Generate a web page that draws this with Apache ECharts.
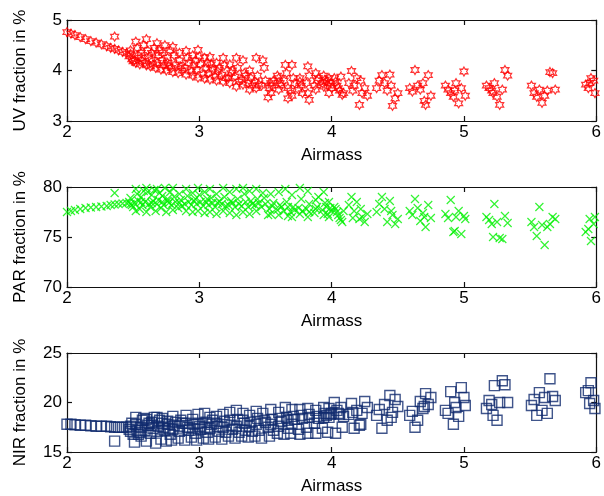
<!DOCTYPE html>
<html>
<head>
<meta charset="utf-8">
<script src="https://cdn.jsdelivr.net/npm/echarts@6/dist/echarts.min.js"></script>
<style>html,body{margin:0;padding:0;background:#fff}#c{width:604px;height:496px}</style>
</head>
<body>
<div id="c"></div>
<script>
// ---- data ----
const airmass = [
  2.00,2.03,2.06,2.10,2.14,2.18,2.22,2.26,2.30,2.33,2.36,2.36,2.39,2.42,2.45,
  2.48,2.47,2.49,2.48,2.50,
  2.52,2.53,2.51,2.52,2.54,
  2.56,2.57,2.55,2.56,2.58,
  2.60,2.61,2.59,2.60,2.62,
  2.64,2.65,2.63,2.64,2.66,
  2.68,2.69,2.67,2.68,2.70,
  2.72,2.73,2.71,2.72,2.74,
  2.76,2.77,2.75,2.76,2.78,
  2.80,2.81,2.79,2.80,2.82,
  2.85,2.86,2.84,2.85,2.87,
  2.90,2.91,2.89,2.90,2.92,
  2.95,2.96,2.94,2.95,2.97,
  2.99,3.00,2.98,2.99,3.01,
  3.04,3.05,3.03,3.04,3.06,
  3.08,3.09,3.07,3.08,3.10,
  3.13,3.14,3.12,3.13,3.15,
  3.18,3.19,3.17,3.18,3.20,
  3.23,3.24,3.22,3.23,3.25,
  3.28,3.29,3.27,3.28,3.30,
  3.33,3.34,3.32,3.33,3.35,
  3.38,3.39,3.37,3.38,3.40,
  3.43,3.44,3.42,3.43,3.45,
  3.48,3.49,3.47,3.52,3.50,
  3.54,3.55,3.53,3.54,3.56,
  3.60,3.61,3.59,3.60,3.62,
  3.65,3.66,3.64,3.67,3.67,
  3.70,3.71,3.69,3.70,3.72,
  3.76,3.77,3.75,3.76,3.78,
  3.82,3.83,3.81,3.82,3.83,
  3.88,3.89,3.87,3.88,3.90,
  3.94,3.95,3.93,3.94,3.96,
  3.98,3.99,3.97,3.98,4.00,
  4.02,4.04,4.06,4.08,4.03,4.05,4.07,4.09,
  4.13,4.15,4.17,4.19,4.21,4.23,4.25,4.27,4.16,4.22,
  4.34,4.36,4.38,4.40,4.42,4.44,4.46,4.48,4.50,4.45,
  4.59,4.61,4.63,4.65,4.67,4.69,4.71,4.73,4.75,4.70,
  4.86,4.88,4.90,4.92,4.94,4.96,4.98,5.00,5.01,4.93,
  5.17,5.19,5.21,5.23,5.25,5.27,5.29,5.31,5.33,5.22,
  5.51,5.53,5.55,5.57,5.59,5.61,5.63,5.65,5.67,5.69,
  5.92,5.94,5.96,5.98,5.99,5.95
];
const uvFraction = [
  4.76,4.73,4.70,4.66,4.62,4.58,4.55,4.52,4.48,4.45,4.43,4.67,4.40,4.37,4.34,
  4.33,4.28,4.22,4.40,4.18,
  4.57,4.45,4.20,4.15,4.30,
  4.25,4.18,4.12,4.35,4.50,
  4.62,4.40,4.15,4.10,4.28,
  4.22,4.12,4.08,4.35,4.45,
  4.54,4.30,4.05,4.15,4.40,
  4.20,4.10,4.02,4.35,4.50,
  4.25,4.08,4.00,4.15,4.40,
  4.47,4.30,4.05,3.97,4.12,
  4.20,4.08,3.95,4.35,4.00,
  4.39,4.25,4.05,3.92,4.15,
  4.30,4.10,3.98,3.90,4.20,
  4.41,4.28,4.02,3.86,4.12,
  4.25,4.05,3.92,3.84,4.15,
  4.27,4.12,3.95,3.82,4.02,
  4.15,3.98,3.88,3.80,4.05,
  4.25,4.10,3.92,3.78,3.85,
  4.12,3.95,3.85,3.75,4.00,
  4.25,4.05,3.88,3.68,3.78,
  4.20,3.95,3.82,3.72,3.90,
  4.00,3.85,3.75,3.62,3.70,
  4.25,3.90,3.78,3.65,3.72,
  4.20,4.05,3.70,3.47,3.80,
  3.75,3.70,3.65,3.55,3.80,
  3.85,3.75,3.90,3.62,3.70,
  4.11,3.95,3.80,3.45,3.65,
  4.11,3.85,3.60,3.50,3.75,
  3.78,3.70,3.62,3.85,3.55,
  4.08,3.90,3.75,3.55,3.42,
  3.95,3.80,3.70,3.62,3.85,
  3.90,3.82,3.75,3.68,3.78,
  3.85,3.75,3.70,3.55,3.65,
  3.85,3.70,3.60,3.52,3.78,3.65,3.88,3.55,
  3.75,3.99,3.70,3.85,3.32,3.55,3.65,3.50,3.60,3.80,
  3.65,3.80,3.91,3.75,3.60,3.92,3.30,3.45,3.55,3.70,
  3.65,3.58,4.01,3.70,3.62,3.75,3.32,3.91,3.50,3.40,
  3.70,3.62,3.55,3.48,3.75,3.35,3.65,3.98,3.50,3.60,
  3.70,3.65,3.60,3.75,3.48,3.32,3.62,4.01,3.90,3.55,
  3.70,3.55,3.48,3.62,3.36,3.50,3.60,3.97,3.95,3.62,
  3.72,3.65,3.85,3.80,3.55,3.75
];
const parFraction = [
  77.5,77.6,77.7,77.8,77.9,77.95,78.0,78.05,78.1,78.2,78.25,79.4,78.3,78.35,78.4,
  78.3,78.5,78.2,78.9,78.0,
  79.8,79.3,78.4,77.6,78.6,
  78.5,78.2,77.8,79.0,79.6,
  79.9,79.5,78.5,77.5,78.3,
  78.4,78.6,78.0,79.2,79.7,
  79.8,78.7,77.6,78.3,79.4,
  78.5,78.2,77.9,79.1,79.9,
  78.6,78.4,77.5,78.8,79.5,
  79.9,79.0,78.2,77.7,78.5,
  78.4,78.7,77.9,79.3,78.1,
  79.8,79.1,78.3,77.6,78.5,
  79.4,78.6,78.2,77.5,78.8,
  79.9,79.2,78.3,77.6,78.5,
  79.5,78.5,78.1,77.4,78.8,
  79.8,78.9,78.2,77.5,78.4,
  79.3,78.4,78.0,77.3,78.6,
  79.9,79.0,78.3,77.6,78.1,
  79.5,78.6,78.2,77.4,78.4,
  79.8,78.8,78.0,77.2,78.3,
  79.9,79.3,78.1,77.5,78.5,
  79.6,78.6,78.0,77.3,78.3,
  79.8,78.8,78.2,77.6,78.4,
  79.4,78.9,78.0,77.2,78.3,
  79.3,78.1,77.8,77.3,78.4,
  79.5,78.2,77.7,77.2,78.0,
  79.8,78.5,77.6,77.1,78.0,
  79.2,78.0,77.5,77.0,77.7,
  79.9,78.8,77.9,77.3,77.6,
  79.6,78.3,77.8,77.0,77.5,
  78.7,78.0,77.4,77.8,79.0,
  79.5,78.4,77.7,77.2,78.0,
  78.5,77.9,77.3,77.0,77.6,
  78.0,77.5,76.9,76.5,77.8,77.2,76.7,77.6,
  78.2,79.0,77.6,78.5,76.8,77.0,76.5,77.3,76.9,77.8,
  77.5,78.3,79.0,77.8,76.5,78.6,77.2,76.3,76.8,77.6,
  77.6,77.2,78.8,77.9,76.6,77.4,76.0,78.2,76.9,77.0,
  77.3,76.9,78.7,75.5,77.0,77.6,75.3,77.1,76.8,75.6,
  77.0,76.7,76.3,78.3,76.5,74.9,74.8,77.1,76.4,75.0,
  76.5,76.0,75.1,78.0,76.2,74.2,76.0,76.3,77.0,76.8,
  75.5,75.8,74.6,76.3,77.0,76.8
];
const nirFraction = [
  17.8,17.8,17.75,17.7,17.7,17.65,17.6,17.6,17.6,17.55,17.5,16.1,17.5,17.5,17.5,
  17.6,17.3,17.9,17.1,16.8,
  18.5,17.2,16.0,17.8,16.8,
  17.5,18.2,17.0,16.6,18.4,
  18.3,17.7,17.2,16.1,17.9,
  18.0,17.4,16.9,17.7,18.5,
  18.5,17.6,15.9,17.1,18.2,
  17.9,17.5,16.3,18.4,17.2,
  18.1,17.4,16.1,17.8,16.8,
  18.6,17.7,16.2,17.3,18.0,
  17.6,18.2,16.4,17.1,17.9,
  18.7,17.5,16.2,17.9,17.2,
  18.3,17.8,16.5,17.4,16.9,
  18.8,17.6,16.2,17.9,17.3,
  18.9,18.0,16.4,17.5,17.0,
  18.5,17.8,16.3,17.4,18.2,
  18.6,17.6,16.5,17.9,17.1,
  18.8,18.1,16.3,17.5,17.0,
  19.0,17.7,16.6,18.2,17.3,
  19.2,18.3,16.4,17.6,17.0,
  18.9,17.9,16.6,18.2,17.2,
  18.7,18.0,16.5,17.6,17.1,
  19.1,18.4,16.6,17.8,17.2,
  18.9,18.2,16.4,17.5,18.0,
  19.3,18.3,16.6,17.8,17.2,
  19.0,18.4,16.9,17.6,18.1,
  19.5,18.5,16.8,17.4,18.2,
  19.3,18.6,16.9,17.8,18.3,
  19.3,18.7,17.3,16.8,18.4,
  19.4,18.8,17.5,16.9,18.5,
  19.2,18.6,17.9,16.9,18.4,
  19.5,18.9,17.4,18.5,18.7,
  19.4,18.8,17.0,18.5,18.9,
  20.0,19.2,18.8,17.5,16.9,18.9,19.5,18.6,
  18.8,19.9,17.4,19.2,17.7,18.9,20.1,19.5,19.0,17.8,
  18.7,19.3,17.4,19.8,18.2,20.7,19.0,20.3,19.6,18.5,
  18.7,19.1,17.5,18.2,20.1,19.4,20.9,19.8,20.5,19.6,
  19.2,18.9,21.1,17.8,19.5,18.6,21.5,20.5,19.7,20.0,
  19.4,20.2,19.8,21.7,18.2,20.0,22.2,21.8,20.0,18.7,
  19.7,20.3,18.7,21.0,19.2,20.5,18.9,22.4,20.6,20.2,
  21.0,21.2,22.0,20.2,19.4,19.9
];
const yTitles = ['UV fraction in %', 'PAR fraction in %', 'NIR fraction in %'];
const yRanges = [[3, 5, 1], [70, 80, 5], [15, 25, 5]];
const xTitle = 'Airmass';

// ---- chart ----
const FONT = 'Liberation Sans';
const FS = 17;
const hexagram = 'path://M10,0L12.89,5L18.66,5L15.77,10L18.66,15L12.89,15L10,20L7.11,15L1.34,15L4.23,10L1.34,5L7.11,5Z';
const cross = 'path://M0,0L10,10M10,0L0,10';
const tops = [20, 187, 353];
const heights = [101, 100, 100];

const grids = tops.map((t, i) => ({ left: 67, right: 6, top: t, height: heights[i] }));
const lineStyle = { color: '#111', width: 1.2 };
const xAxes = [], yAxes = [];
for (let i = 0; i < 3; i++) {
  xAxes.push({
    type: 'value', gridIndex: i, min: 2, max: 6, interval: 1, position: 'bottom',
    name: xTitle, nameLocation: 'middle', nameGap: 26,
    nameTextStyle: { fontFamily: FONT, fontSize: FS, color: '#000' },
    axisLine: { show: true, onZero: false, lineStyle },
    axisTick: { show: true, inside: true, length: 5, lineStyle },
    axisLabel: { fontFamily: FONT, fontSize: FS, color: '#000', margin: 3 },
    splitLine: { show: false }
  });
  xAxes.push({
    type: 'value', gridIndex: i, min: 2, max: 6, interval: 1, position: 'top',
    axisLine: { show: true, onZero: false, lineStyle },
    axisTick: { show: true, inside: true, length: 5, lineStyle },
    axisLabel: { show: false }, splitLine: { show: false }
  });
  const r = yRanges[i];
  yAxes.push({
    type: 'value', gridIndex: i, min: r[0], max: r[1], interval: r[2], position: 'left',
    name: yTitles[i], nameLocation: 'middle', nameGap: 38,
    nameTextStyle: { fontFamily: FONT, fontSize: FS, color: '#000' },
    axisLine: { show: true, onZero: false, lineStyle },
    axisTick: { show: true, inside: true, length: 5, lineStyle },
    axisLabel: { fontFamily: FONT, fontSize: FS, color: '#000', margin: 5 },
    splitLine: { show: false }
  });
  yAxes.push({
    type: 'value', gridIndex: i, min: r[0], max: r[1], interval: r[2], position: 'right',
    axisLine: { show: true, onZero: false, lineStyle },
    axisTick: { show: true, inside: true, length: 5, lineStyle },
    axisLabel: { show: false }, splitLine: { show: false }
  });
}

const pts = (ys) => airmass.map((x, k) => [x, ys[k]]);
const chart = echarts.init(document.getElementById('c'), null, { renderer: 'canvas' });
chart.setOption({
  animation: false,
  grid: grids,
  xAxis: xAxes,
  yAxis: yAxes,
  series: [
    { type: 'scatter', xAxisIndex: 0, yAxisIndex: 0, data: pts(uvFraction),
      symbol: hexagram, symbolSize: [8, 9], silent: true,
      itemStyle: { color: 'rgba(0,0,0,0)', borderColor: '#ff0000', borderWidth: 1.2 } },
    { type: 'scatter', xAxisIndex: 2, yAxisIndex: 2, data: pts(parFraction),
      symbol: cross, symbolSize: 8, silent: true,
      itemStyle: { color: 'rgba(0,0,0,0)', borderColor: '#00f000', borderWidth: 1.2 } },
    { type: 'scatter', xAxisIndex: 4, yAxisIndex: 4, data: pts(nirFraction),
      symbol: 'rect', symbolSize: 10, silent: true,
      itemStyle: { color: 'rgba(0,0,0,0)', borderColor: '#102a6e', borderWidth: 1.4 } }
  ]
});
</script>
</body>
</html>
